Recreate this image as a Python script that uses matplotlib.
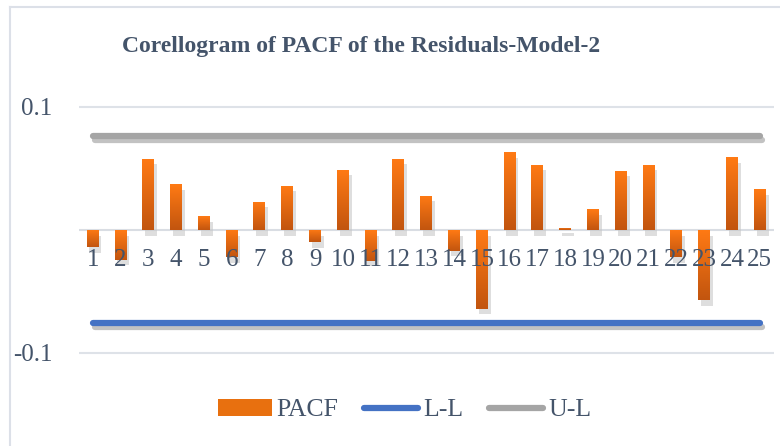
import numpy as np
import matplotlib
matplotlib.use("Agg")
import matplotlib.pyplot as plt
import matplotlib.patheffects as pe
from matplotlib.lines import Line2D
from matplotlib.patches import Patch

plt.rcParams['font.family'] = ['Liberation Serif', 'DejaVu Serif']

# lags and partial autocorrelations
lags = list(range(1, 26))
pacf = [-0.014, -0.024, 0.058, 0.037, 0.011, -0.022, 0.023, 0.036, -0.010, 0.049,
        -0.025, 0.058, 0.028, -0.017, -0.064, 0.063, 0.053, 0.002, 0.017, 0.048,
        0.053, -0.022, -0.057, 0.059, 0.033]
lower = [-0.0755] * 25
upper = [0.0765] * 25

txt = '#44546A'

fig = plt.figure(figsize=(7.8, 4.46), dpi=100)
ax = fig.add_axes([0.101, 0.1396, 0.891, 0.6895])

bars = ax.bar(lags, pacf, width=0.43, color='#E8700F', zorder=3,
              path_effects=[pe.SimplePatchShadow(offset=(2, -4), shadow_rgbFace='#c4c4c4', alpha=0.55),
                            pe.Normal()])

# orange gradient in every bar, bright at top, darker at bottom
grad = np.linspace(0, 1, 64).reshape(-1, 1)
cmap = matplotlib.colors.LinearSegmentedColormap.from_list('og', ['#FF7A14', '#C2550F'])
for b in bars:
    x0, y0 = b.get_x(), b.get_y()
    w, h = b.get_width(), b.get_height()
    lo, hi = min(y0, y0 + h), max(y0, y0 + h)
    im = ax.imshow(grad, cmap=cmap, aspect='auto', extent=(x0, x0 + w, lo, hi),
                   origin='upper', zorder=4)
    im.set_clip_path(b)

line_fx = [pe.SimpleLineShadow(offset=(1.5, -3), shadow_color='#9a9a9a', alpha=0.6), pe.Normal()]
ax.plot(lags, lower, color='#4472C4', lw=4.5, solid_capstyle='round', zorder=5,
        path_effects=line_fx)
ax.plot(lags, upper, color='#A5A5A5', lw=4.5, solid_capstyle='round', zorder=5,
        path_effects=line_fx)

ax.axhline(0, color='#D9DDE3', lw=1.5, zorder=1)
ax.set_xlim(0.5, 25.5)
ax.set_ylim(-0.125, 0.125)
ax.set_yticks([-0.1, 0.1])
ax.set_yticklabels(['-0.1', '0.1'])
ax.yaxis.grid(True, color='#DEE2E8', lw=1.5)
ax.set_axisbelow(True)
ax.xaxis.set_zorder(6)
for s in ax.spines.values():
    s.set_visible(False)
ax.spines['bottom'].set_position(('data', 0))
ax.set_xticks(lags)
ax.tick_params(axis='x', length=0, pad=14, labelsize=18, labelcolor=txt)
ax.tick_params(axis='y', length=0, pad=19, labelsize=18, labelcolor=txt)

fig.text(0.4635, 1 - 52 / 446, 'Corellogram of PACF of the Residuals-Model-2',
         ha='center', va='baseline', fontsize=17, fontweight='bold', color=txt)

handles = [Patch(facecolor='#E8700F'),
           Line2D([], [], color='#4472C4', lw=4.5, solid_capstyle='round'),
           Line2D([], [], color='#A5A5A5', lw=4.5, solid_capstyle='round')]
leg = fig.legend(handles, ['PACF', 'L-L', 'U-L'], loc='center', bbox_to_anchor=(404.5 / 780, 1 - 410 / 446),
                 ncol=3, frameon=False, fontsize=18.5, handlelength=2.1, handletextpad=0.2,
                 columnspacing=1.0)
for t in leg.get_texts():
    t.set_color(txt)

# chart area border (only top and left visible)
fig.add_artist(Line2D([10 / 780, 1], [1 - 7 / 446, 1 - 7 / 446], color='#DCE0E8', lw=1.5))
fig.add_artist(Line2D([10 / 780, 10 / 780], [0, 1 - 7 / 446], color='#DCE0E8', lw=1.5))

fig.savefig('out.png', dpi=100)
